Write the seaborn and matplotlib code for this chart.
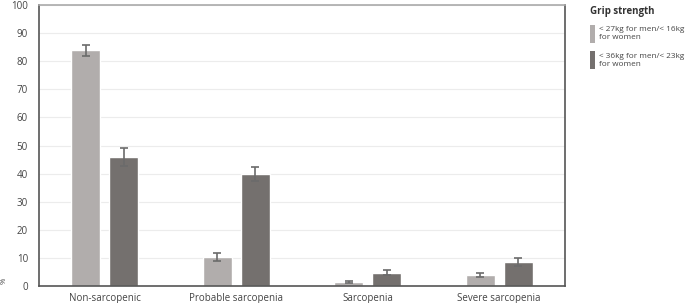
import matplotlib
matplotlib.use("Agg")
import matplotlib.pyplot as plt
import seaborn as sns
import pandas as pd
from matplotlib.patches import Patch

categories = ["Non-sarcopenic", "Probable sarcopenia", "Sarcopenia", "Severe sarcopenia"]
series_names = ["< 27kg for men/< 16kg\nfor women", "< 36kg for men/< 23kg\nfor women"]
values_a = [83.9, 10.4, 1.3, 3.8]
values_b = [46.0, 39.8, 4.8, 8.6]
err_a = [2.0, 1.5, 0.4, 0.7]
err_b = [3.2, 2.6, 0.8, 1.5]
yticks = [0, 10, 20, 30, 40, 50, 60, 70, 80, 90, 100]

colors = ["#b1adac", "#74706e"]

sns.set_theme(style="white")
plt.rcParams["font.family"] = ["Open Sans", "DejaVu Sans"]

df = pd.DataFrame({
    "category": categories * 2,
    "series": [series_names[0]] * 4 + [series_names[1]] * 4,
    "value": values_a + values_b,
})

fig = plt.figure(figsize=(6.87, 3.03), dpi=100)
ax = fig.add_axes([0.0568, 0.0561, 0.7656, 0.9274])

sns.barplot(data=df, x="category", y="value", hue="series", order=categories,
            hue_order=series_names, palette=colors, width=0.58, gap=0.24,
            errorbar=None, legend=False, ax=ax, saturation=1)

# error bars from bar geometry
patches = [p for p in ax.patches]
errs = err_a + err_b
vals = values_a + values_b
for p, v, e in zip(patches, vals, errs):
    xc = p.get_x() + p.get_width() / 2
    ax.errorbar(xc, v, yerr=e, color="#6b6b6b", capsize=3, elinewidth=1.2,
                capthick=1.2, fmt="none")

ax.set_ylim(0, 100)
ax.set_xlim(-0.5, 3.5)
ax.set_yticks(yticks)
ax.set_yticklabels([str(t) for t in yticks])
ax.yaxis.grid(True, color="#ececec", linewidth=0.8)
ax.set_axisbelow(True)
ax.tick_params(axis="both", length=0, labelsize=7, colors="#444444", pad=8)
ax.tick_params(axis="x", pad=5)
ax.set_xlabel("")
ax.set_ylabel("%", fontsize=5.5, color="#444444", rotation=90,
              ha="center", va="center")
ax.yaxis.set_label_coords(-0.066, 0.02)

for side in ["left", "bottom", "right"]:
    ax.spines[side].set_color("#555555")
    ax.spines[side].set_linewidth(1.2)
ax.spines["top"].set_color("#aaaaaa")
ax.spines["top"].set_linewidth(1.2)

handles = [Patch(facecolor=c, edgecolor="none") for c in colors]
leg = fig.legend(handles, series_names, title="Grip strength", loc="upper left",
                 bbox_to_anchor=(0.850, 1.0), frameon=False, fontsize=5.9,
                 title_fontsize=7, handlelength=0.6, handleheight=3.0,
                 handletextpad=0.5, labelspacing=1.0, alignment="left",
                 borderaxespad=0.3)
leg.get_title().set_fontweight("bold")
leg.get_title().set_color("#333333")
for t in leg.get_texts():
    t.set_color("#444444")

fig.savefig("out.png", dpi=100)
